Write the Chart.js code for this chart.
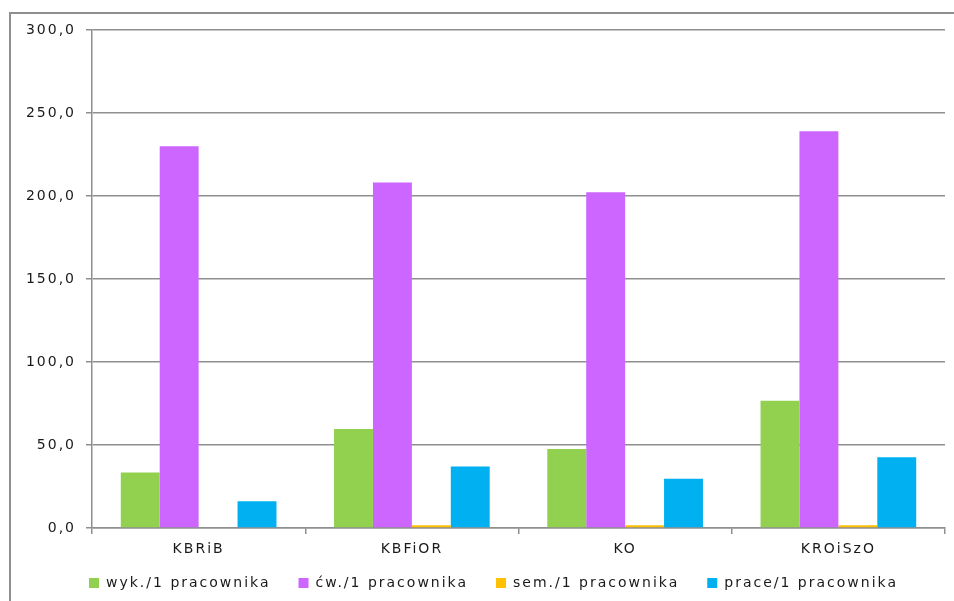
<!DOCTYPE html>
<html lang="pl">
<head>
<meta charset="utf-8">
<title>Obciążenie na 1 pracownika</title>
<script src="https://cdn.jsdelivr.net/npm/chart.js@4/dist/chart.umd.min.js"></script>
<style>
  html, body { margin: 0; padding: 0; background: #fff; }
  #wrap { width: 954px; height: 601px; }
</style>
</head>
<body>
<div id="wrap"><canvas id="chart" width="954" height="601"></canvas></div>
<script>
// Categories and series (hours / works per employee)
const categories = ['KBRiB', 'KBFiOR', 'KO', 'KROiSzO'];
const seriesNames = ['wyk./1 pracownika', 'ćw./1 pracownika', 'sem./1 pracownika', 'prace/1 pracownika'];
const wykValues   = [33.5, 59.7, 47.6, 76.6];
const cwValues    = [230.0, 208.2, 202.2, 239.0];
const semValues   = [0, 1.6, 1.6, 1.6];
const praceValues = [16.1, 37.1, 29.6, 42.6];
const yTicks      = [0, 50, 100, 150, 200, 250, 300];

const colors = ['#92D050', '#CC66FF', '#FFC000', '#00B0F0'];
const lineGray = '#8f8f8f';
const textColor = '#1a1a1a';
const FONT = "'DejaVu Sans', Verdana, sans-serif";

// Wide, Verdana-like lettering: letterSpacing has to be reapplied
// after each canvas resize since that resets the context state.
const spacingPlugin = {
    id: 'spacing',
    beforeUpdate(chart) { chart.ctx.letterSpacing = '2px'; },
    beforeDraw(chart) { chart.ctx.letterSpacing = '2px'; }
};

// Legend items use a wide padding for horizontal spacing; stretch the
// legend box upward (and nudge it right) so the row sits under the labels.
const legendShiftPlugin = {
    id: 'legendShift',
    afterLayout(chart) {
        const lg = chart.legend;
        if (!lg) return;
        lg.top -= 18;
        lg.height += 18;
        lg.left += 21;
        lg.right += 21;
    }
};

// Outer frame around the whole chart (top and left edges are visible)
const framePlugin = {
    id: 'frame',
    beforeDraw(chart) {
        const ctx = chart.ctx;
        ctx.save();
        ctx.strokeStyle = lineGray;
        ctx.lineWidth = 2;
        ctx.beginPath();
        ctx.moveTo(10, chart.height);
        ctx.lineTo(10, 13);
        ctx.lineTo(chart.width, 13);
        ctx.stroke();
        ctx.restore();
    }
};

const datasets = [wykValues, cwValues, semValues, praceValues].map((vals, i) => ({
    label: seriesNames[i],
    data: vals,
    backgroundColor: colors[i],
    borderWidth: 0,
    categoryPercentage: 0.73,
    barPercentage: 1.0
}));

new Chart(document.getElementById('chart'), {
    type: 'bar',
    data: { labels: categories, datasets },
    plugins: [spacingPlugin, legendShiftPlugin, framePlugin],
    options: {
        responsive: false,
        animation: false,
        devicePixelRatio: 1,
        layout: { padding: { left: 0, top: 30, right: 9, bottom: 0 } },
        plugins: {
            tooltip: { enabled: false },
            legend: {
                position: 'bottom',
                maxHeight: 35,
                labels: {
                    color: textColor,
                    font: { family: FONT, size: 14 },
                    boxWidth: 10,
                    boxHeight: 10,
                    padding: 28
                }
            }
        },
        scales: {
            x: {
                afterFit: s => { s.height = 38; },
                grid: {
                    drawOnChartArea: false,
                    offset: true,
                    tickLength: 6,
                    color: lineGray,
                    lineWidth: 1.5
                },
                border: { color: lineGray, width: 1.5 },
                ticks: {
                    color: textColor,
                    font: { family: FONT, size: 14 },
                    padding: 7
                }
            },
            y: {
                min: yTicks[0],
                max: yTicks[yTicks.length - 1],
                afterFit: s => { s.width = 92; },
                afterBuildTicks: s => { s.ticks = yTicks.map(v => ({ value: v })); },
                grid: {
                    tickLength: 6,
                    color: lineGray,
                    lineWidth: 1.5
                },
                border: { color: lineGray, width: 1.5 },
                ticks: {
                    color: textColor,
                    font: { family: FONT, size: 14 },
                    padding: 10,
                    callback: v => v.toFixed(1).replace('.', ',')
                }
            }
        }
    }
});
</script>
</body>
</html>
